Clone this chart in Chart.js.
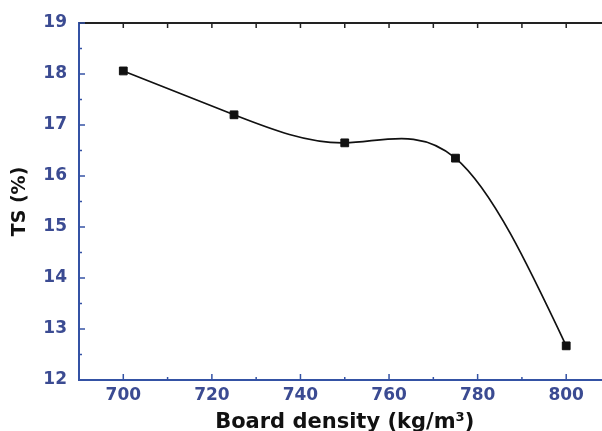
<!DOCTYPE html>
<html lang="en">
<head>
  <meta charset="UTF-8" />
  <title>TS vs Board density</title>
  <script src="https://cdn.jsdelivr.net/npm/chart.js"></script>
  <style>
    html, body { margin: 0; padding: 0; background: #fff; overflow: hidden; }
    #wrap { width: 617px; height: 431px; }
  </style>
</head>
<body>
  <div id="wrap"><canvas id="tsChart" width="617" height="431"></canvas></div>

  <script>
    // data
    const densities = [700, 725, 750, 775, 800];
    const tsValues = [18.06, 17.2, 16.65, 16.35, 12.67];
    const xTicks = [700, 720, 740, 760, 780, 800];
    const xMinorTicks = [710, 730, 750, 770, 790];
    const yTicks = [12, 13, 14, 15, 16, 17, 18, 19];
    const yMinorTicks = [12.5, 13.5, 14.5, 15.5, 16.5, 17.5, 18.5];

    const axisBlue = '#3452a4';
    const labelBlue = '#3b4b92';

    // natural cubic spline through the plotted points (like Origin's spline line)
    const splinePlugin = {
      id: 'spline',
      beforeDatasetsDraw(chart) {
        const pts = chart.getDatasetMeta(0).data.map(p => ({ x: p.x, y: p.y }));
        const n = pts.length;
        if (n < 2) return;
        const h = [];
        for (let i = 0; i < n - 1; i++) h.push(pts[i + 1].x - pts[i].x);
        // second derivatives, natural ends
        const M = new Array(n).fill(0);
        const a = [], b = [], c = [], d = [];
        for (let i = 1; i < n - 1; i++) {
          a.push(h[i - 1]);
          b.push(2 * (h[i - 1] + h[i]));
          c.push(h[i]);
          d.push(6 * ((pts[i + 1].y - pts[i].y) / h[i] - (pts[i].y - pts[i - 1].y) / h[i - 1]));
        }
        const m = b.length;
        for (let i = 1; i < m; i++) {
          const w = a[i] / b[i - 1];
          b[i] -= w * c[i - 1];
          d[i] -= w * d[i - 1];
        }
        const sol = new Array(m).fill(0);
        for (let i = m - 1; i >= 0; i--) {
          sol[i] = (d[i] - (i < m - 1 ? c[i] * sol[i + 1] : 0)) / b[i];
        }
        for (let i = 0; i < m; i++) M[i + 1] = sol[i];

        const ctx = chart.ctx;
        const area = chart.chartArea;
        ctx.save();
        ctx.beginPath();
        ctx.rect(area.left, area.top, area.right - area.left, area.bottom - area.top);
        ctx.clip();
        ctx.beginPath();
        ctx.moveTo(pts[0].x, pts[0].y);
        for (let i = 0; i < n - 1; i++) {
          const hi = h[i];
          const s = (pts[i + 1].y - pts[i].y) / hi;
          const d0 = s - hi * (2 * M[i] + M[i + 1]) / 6;
          const d1 = s + hi * (M[i] + 2 * M[i + 1]) / 6;
          ctx.bezierCurveTo(
            pts[i].x + hi / 3, pts[i].y + d0 * hi / 3,
            pts[i + 1].x - hi / 3, pts[i + 1].y - d1 * hi / 3,
            pts[i + 1].x, pts[i + 1].y
          );
        }
        ctx.strokeStyle = '#111';
        ctx.lineWidth = 1.7;
        ctx.stroke();
        ctx.restore();
      }
    };

    // frame and inward ticks
    const framePlugin = {
      id: 'frame',
      afterDraw(chart) {
        const ctx = chart.ctx;
        const { left, right, top, bottom } = chart.chartArea;
        const xs = chart.scales.x, ys = chart.scales.y;
        ctx.save();
        // top border (black)
        ctx.strokeStyle = '#222';
        ctx.lineWidth = 2;
        ctx.beginPath();
        ctx.moveTo(left, top);
        ctx.lineTo(right, top);
        ctx.stroke();
        ctx.lineWidth = 1.5;
        xTicks.concat(xMinorTicks).forEach(v => {
          const px = xs.getPixelForValue(v);
          ctx.beginPath();
          ctx.moveTo(px, top);
          ctx.lineTo(px, top + 5);
          ctx.stroke();
        });
        // bottom and left ticks (blue)
        ctx.strokeStyle = axisBlue;
        xTicks.forEach(v => {
          const px = xs.getPixelForValue(v);
          ctx.beginPath();
          ctx.moveTo(px, bottom);
          ctx.lineTo(px, bottom - 6);
          ctx.stroke();
        });
        xMinorTicks.forEach(v => {
          const px = xs.getPixelForValue(v);
          ctx.beginPath();
          ctx.moveTo(px, bottom);
          ctx.lineTo(px, bottom - 3);
          ctx.stroke();
        });
        yTicks.forEach(v => {
          const py = ys.getPixelForValue(v);
          ctx.beginPath();
          ctx.moveTo(left, py);
          ctx.lineTo(left + 6, py);
          ctx.stroke();
        });
        yMinorTicks.forEach(v => {
          const py = ys.getPixelForValue(v);
          ctx.beginPath();
          ctx.moveTo(left, py);
          ctx.lineTo(left + 3, py);
          ctx.stroke();
        });
        ctx.restore();
      }
    };

    const tickFont = { family: 'DejaVu Sans', weight: 'bold', size: 17 };
    const titleFont = { family: 'DejaVu Sans', weight: 'bold', size: 19 };

    new Chart(document.getElementById('tsChart'), {
      type: 'scatter',
      data: {
        datasets: [{
          label: 'TS (%)',
          data: densities.map((x, i) => ({ x: x, y: tsValues[i] })),
          showLine: false,
          pointStyle: 'rect',
          pointRadius: 5.5,
          backgroundColor: '#111',
          borderColor: '#111',
          borderWidth: 1
        }]
      },
      options: {
        responsive: false,
        animation: false,
        layout: { padding: { top: 23, right: 1, left: 0, bottom: 0 } },
        plugins: {
          legend: { display: false },
          tooltip: { enabled: false }
        },
        scales: {
          x: {
            type: 'linear',
            min: 690,
            max: 810,
            afterBuildTicks: s => { s.ticks = xTicks.map(v => ({ value: v })); },
            afterFit: s => { s.height = 51; },
            grid: { display: false, drawTicks: false },
            border: { display: true, color: axisBlue, width: 2 },
            ticks: { color: labelBlue, font: tickFont, padding: 5, maxRotation: 0 },
            title: {
              display: true,
              text: 'Board density (kg/m³)',
              color: '#111',
              font: { family: 'DejaVu Sans', weight: 'bold', size: 21 },
              padding: { top: 0, bottom: -4 }
            }
          },
          y: {
            min: 12,
            max: 19,
            afterBuildTicks: s => { s.ticks = yTicks.map(v => ({ value: v })); },
            afterFit: s => { s.width = 79; },
            grid: { display: false, drawTicks: false },
            border: { display: true, color: axisBlue, width: 2 },
            ticks: { color: labelBlue, font: tickFont, padding: 12 },
            title: {
              display: true,
              text: 'TS (%)',
              color: '#111',
              font: titleFont,
              padding: { top: 9, bottom: 0 }
            }
          }
        }
      },
      plugins: [splinePlugin, framePlugin]
    });
  </script>
</body>
</html>
